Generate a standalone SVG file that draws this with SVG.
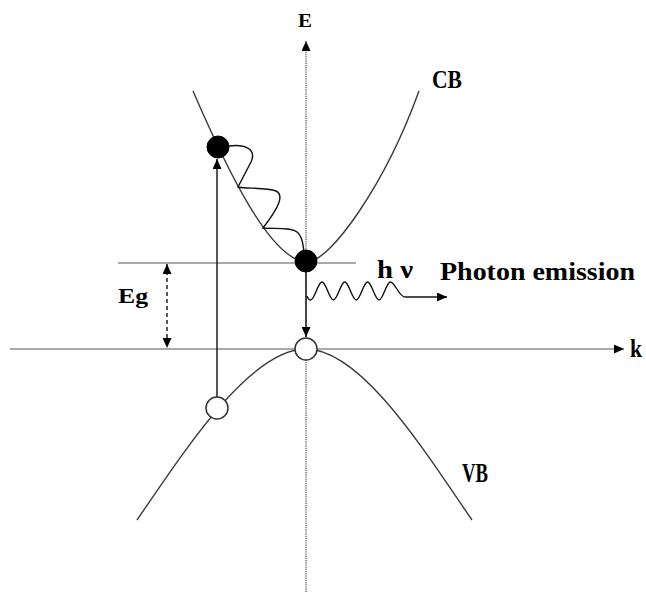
<svg xmlns="http://www.w3.org/2000/svg" width="646" height="597" viewBox="0 0 646 597">
  <defs>
    <marker id="arr" markerUnits="userSpaceOnUse" markerWidth="11" markerHeight="9" refX="10" refY="4.5" orient="auto-start-reverse">
      <path d="M0,0 L10,4.5 L0,9 Z" fill="#000" stroke="none"/>
    </marker>
    <style>
      .band { fill: none; stroke: #3a3a3a; stroke-width: 1.4; }
      .axis { fill: none; stroke: #555; stroke-width: 1.2; }
      .dot { fill: none; stroke: #777; stroke-width: 1.6; stroke-dasharray: 1.2 1; }
      .conn { fill: none; stroke: #111; stroke-width: 1.4; }
      .elec { fill: #000; stroke: #000; stroke-width: 1; }
      .hole { fill: #fff; stroke: #333; stroke-width: 1.5; }
      .lbl { font-family: "Liberation Serif", "DejaVu Serif", serif; font-weight: bold; fill: #000; }
    </style>
  </defs>
  <rect width="646" height="597" fill="#fff"/>

  <g id="axes">
    <line id="e-axis" class="dot" x1="306" y1="592" x2="306" y2="41" marker-end="url(#arr)"/>
    <line id="k-axis" class="axis" x1="10" y1="349" x2="624" y2="349" marker-end="url(#arr)"/>
    <line id="cbmin-level" class="axis" x1="118" y1="263" x2="356" y2="263"/>
  </g>

  <g id="bands">
    <path id="cb" class="band" d="M193,91 C225,165 270,261 307,262 C330,262 385,185 419,91"/>
    <path id="vb" class="band" d="M137,520 C185,450 250,349 306,349 C361,349 424,450 472,520"/>
  </g>

  <g id="connectors">
    <path id="relax" class="conn" stroke-width="1.3" d="M229,146 C245,144 257,149 251,162 L238,187 C246,189 266,187 276,191 C284,195 280,206 263,228 C275,229 291,227 297,232 C302,236 303,244 304,252"/>
    <line id="absorb" class="conn" x1="217" y1="397" x2="217" y2="159" marker-end="url(#arr)"/>
    <line id="recomb" class="conn" x1="306" y1="272" x2="306" y2="337" marker-end="url(#arr)"/>
    <line id="eg-arrow" class="conn" stroke-dasharray="4 3" x1="167" y1="264" x2="167" y2="348" marker-start="url(#arr)" marker-end="url(#arr)"/>
    <path id="photon" class="conn" stroke-width="1.3" marker-end="url(#arr)" d="M307,296 C308,299 309,300 310.6,300 c4.1,0 7.3,-18 11.4,-18 c4.1,0 7.3,18 11.4,18 c4.1,0 7.3,-18 11.4,-18 c4.1,0 7.3,18 11.4,18 c4.1,0 7.3,-18 11.4,-18 c4.1,0 7.3,18 11.4,18 c4.1,0 7.3,-18 11.4,-18 C395,282 399,297 405,297 L447,297"/>
  </g>

  <g id="electron-high"><circle class="elec" cx="218" cy="147" r="11"/></g>
  <g id="electron-min"><circle class="elec" cx="306" cy="261" r="11"/></g>
  <g id="hole-top"><circle class="hole" cx="306" cy="349" r="11"/></g>
  <g id="hole-low"><circle class="hole" cx="217" cy="408" r="11"/></g>

  <g id="labels">
    <text class="lbl" x="298" y="27" font-size="18" textLength="14" lengthAdjust="spacingAndGlyphs">E</text>
    <text class="lbl" x="432" y="88" font-size="26" textLength="30" lengthAdjust="spacingAndGlyphs">CB</text>
    <text class="lbl" x="462" y="482" font-size="27" textLength="26" lengthAdjust="spacingAndGlyphs">VB</text>
    <text class="lbl" x="118" y="303" font-size="22" textLength="30" lengthAdjust="spacingAndGlyphs">Eg</text>
    <text class="lbl" x="630" y="357" font-size="26" textLength="12" lengthAdjust="spacingAndGlyphs">k</text>
    <text class="lbl" x="377" y="278" font-size="26" textLength="36" lengthAdjust="spacingAndGlyphs">h ν</text>
    <text class="lbl" x="440" y="280" font-size="26" textLength="195" lengthAdjust="spacingAndGlyphs">Photon emission</text>
  </g>
</svg>
